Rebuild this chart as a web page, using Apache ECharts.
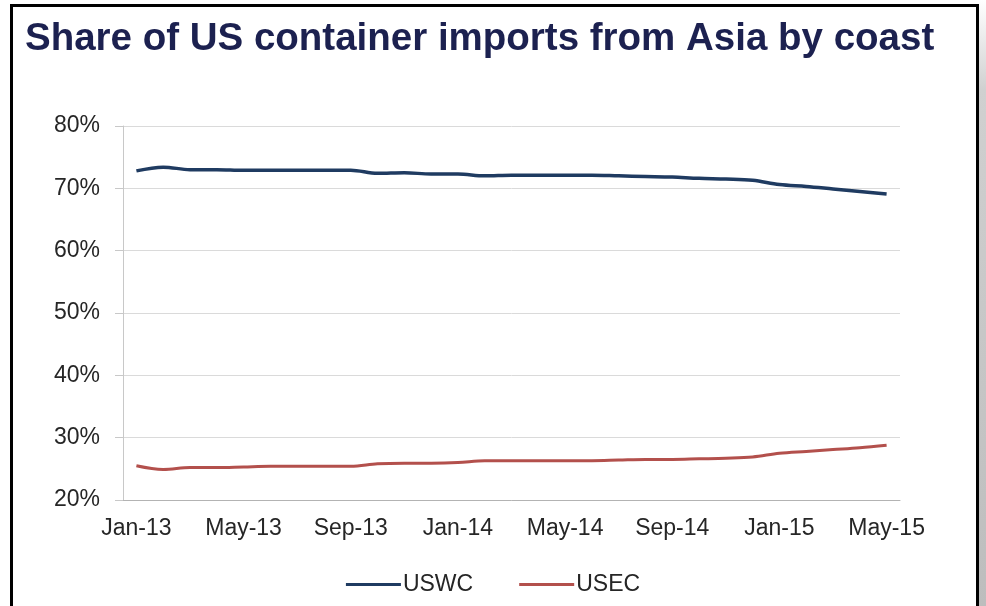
<!DOCTYPE html>
<html>
<head>
<meta charset="utf-8">
<script src="https://cdn.jsdelivr.net/npm/echarts@6/dist/echarts.min.js"></script>
<style>
  html, body { margin: 0; padding: 0; background: #fff; }
  .wrap { position: relative; width: 986px; height: 606px; overflow: hidden; }
  #chart { position: absolute; left: 0; top: 0; width: 986px; height: 606px; }
  .frame {
    position: absolute; left: 10px; top: 4px; width: 963px; height: 620px;
    border: 3px solid #000; pointer-events: none;
  }
  .shade {
    position: absolute; left: 979px; top: 0; width: 7px; height: 606px;
    background: linear-gradient(to bottom, #fff 0, #d0d0d0 90px, #bdbdbd 100%);
  }
</style>
</head>
<body>
<div class="wrap">
  <div id="chart"></div>
  <div class="frame"></div>
  <div class="shade"></div>
</div>
<script>
const months = [
  'Jan-13', 'Feb-13', 'Mar-13', 'Apr-13', 'May-13', 'Jun-13', 'Jul-13', 'Aug-13',
  'Sep-13', 'Oct-13', 'Nov-13', 'Dec-13', 'Jan-14', 'Feb-14', 'Mar-14', 'Apr-14',
  'May-14', 'Jun-14', 'Jul-14', 'Aug-14', 'Sep-14', 'Oct-14', 'Nov-14', 'Dec-14',
  'Jan-15', 'Feb-15', 'Mar-15', 'Apr-15', 'May-15'
]

// share of imports, %
const uswc = [
  72.8, 73.4, 73.0, 73.0, 72.9, 72.9, 72.9, 72.9, 72.9, 72.4, 72.5, 72.3, 72.3, 72.0, 72.1,
  72.1, 72.1, 72.1, 72.0, 71.9, 71.8, 71.6, 71.5, 71.3, 70.6, 70.3, 69.9, 69.5, 69.1
]
const usec = [
  25.5, 24.9, 25.2, 25.2, 25.3, 25.4, 25.4, 25.4, 25.4, 25.8, 25.9, 25.9, 26.0, 26.3, 26.3,
  26.3, 26.3, 26.3, 26.4, 26.5, 26.5, 26.6, 26.7, 26.9, 27.5, 27.8, 28.1, 28.4, 28.8
]

const yTicks = { min: 20, max: 80, step: 10 }

const axisFont = { fontFamily: 'Liberation Sans, Arial, sans-serif', fontSize: 23, color: '#262626' }

const chart = echarts.init(document.getElementById('chart'))

chart.setOption({
  animation: false,
  title: {
    text: 'Share of US container imports from Asia by coast',
    left: 25,
    top: 20,
    padding: 0,
    textStyle: {
      fontFamily: 'Liberation Sans, Arial, sans-serif',
      fontSize: 38.5,
      fontWeight: 'bold',
      color: '#1c2150',
    },
  },
  grid: { left: 123, right: 86, top: 126, bottom: 106 },
  legend: {
    left: 'center',
    top: 568,
    icon: 'rect',
    itemWidth: 55,
    itemHeight: 3,
    itemGap: 46,
    textStyle: { ...axisFont, padding: [0, 0, 0, -3] },
    data: ['USWC', 'USEC'],
  },
  xAxis: {
    type: 'category',
    data: months,
    boundaryGap: true,
    axisLine: { lineStyle: { color: '#b3b3b3', width: 1 } },
    axisTick: { interval: 1, length: 5, lineStyle: { color: '#b3b3b3' } },
    axisLabel: { ...axisFont, interval: 3, margin: 17 },
  },
  yAxis: {
    type: 'value',
    min: yTicks.min,
    max: yTicks.max,
    interval: yTicks.step,
    axisLine: { show: true, lineStyle: { color: '#c8c8c8' } },
    axisTick: { show: true, length: 8, lineStyle: { color: '#c8c8c8' } },
    axisLabel: { ...axisFont, margin: 23, formatter: '{value}%' },
    splitLine: { lineStyle: { color: '#dadada', width: 1 } },
  },
  series: [
    {
      name: 'USWC',
      type: 'line',
      data: uswc,
      smooth: 0.35,
      symbol: 'none',
      lineStyle: { color: '#1f3b61', width: 3.5 },
      itemStyle: { color: '#1f3b61' },
    },
    {
      name: 'USEC',
      type: 'line',
      data: usec,
      smooth: 0.35,
      symbol: 'none',
      lineStyle: { color: '#b3504c', width: 3 },
      itemStyle: { color: '#b3504c' },
    },
  ],
})
</script>
</body>
</html>
